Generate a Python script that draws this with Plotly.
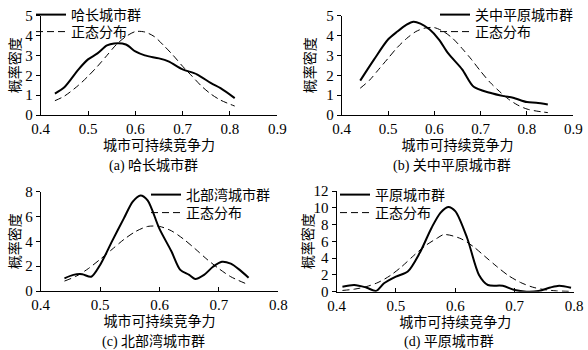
import plotly.graph_objects as go

# ---------------- data ----------------
# (a) 哈长城市群
a_x = [0.43, 0.45, 0.48, 0.50, 0.52, 0.54, 0.555, 0.58, 0.60, 0.62, 0.65, 0.67, 0.70, 0.73, 0.76, 0.78, 0.81]
a_y = [1.08, 1.4, 2.3, 2.8, 3.1, 3.5, 3.6, 3.55, 3.2, 3.0, 2.85, 2.7, 2.3, 2.05, 1.6, 1.35, 0.85]
a_nx = [0.43, 0.45, 0.48, 0.50, 0.52, 0.54, 0.56, 0.58, 0.60, 0.62, 0.64, 0.66, 0.68, 0.70, 0.72, 0.74, 0.76, 0.78, 0.81]
a_ny = [0.72, 0.95, 1.5, 1.95, 2.45, 3.0, 3.55, 3.95, 4.2, 4.18, 3.95, 3.5, 3.0, 2.45, 1.95, 1.45, 1.05, 0.75, 0.45]

# (b) 关中平原城市群
b_x = [0.44, 0.47, 0.50, 0.52, 0.54, 0.555, 0.57, 0.59, 0.61, 0.63, 0.66, 0.685, 0.72, 0.75, 0.77, 0.80, 0.82, 0.845]
b_y = [1.73, 2.8, 3.8, 4.2, 4.55, 4.7, 4.6, 4.3, 3.8, 3.1, 2.3, 1.42, 1.12, 0.95, 0.87, 0.65, 0.62, 0.53]
b_nx = [0.44, 0.46, 0.48, 0.50, 0.52, 0.54, 0.56, 0.58, 0.60, 0.62, 0.64, 0.66, 0.68, 0.70, 0.72, 0.74, 0.76, 0.78, 0.80, 0.82, 0.845]
b_ny = [1.35, 1.75, 2.3, 2.85, 3.4, 3.85, 4.2, 4.38, 4.4, 4.2, 3.85, 3.35, 2.8, 2.2, 1.65, 1.2, 0.8, 0.5, 0.3, 0.2, 0.12]

# (c) 北部湾城市群
c_x = [0.44, 0.455, 0.47, 0.485, 0.50, 0.52, 0.54, 0.555, 0.568, 0.58, 0.60, 0.62, 0.635, 0.65, 0.66, 0.675, 0.69, 0.705, 0.72, 0.735, 0.75]
c_y = [1.02, 1.3, 1.35, 1.15, 2.1, 4.0, 5.85, 7.2, 7.7, 7.3, 5.0, 3.2, 1.7, 1.3, 0.97, 1.3, 1.95, 2.36, 2.2, 1.7, 1.07]
c_nx = [0.44, 0.46, 0.48, 0.50, 0.52, 0.54, 0.56, 0.58, 0.60, 0.62, 0.64, 0.66, 0.68, 0.70, 0.72, 0.75]
c_ny = [0.8, 1.2, 1.8, 2.55, 3.35, 4.15, 4.8, 5.2, 5.2, 4.85, 4.2, 3.4, 2.55, 1.8, 1.15, 0.5]

# (d) 平原城市群
d_x = [0.41, 0.43, 0.45, 0.467, 0.48, 0.50, 0.52, 0.54, 0.56, 0.575, 0.588, 0.60, 0.62, 0.64, 0.655, 0.68, 0.70, 0.72, 0.74, 0.76, 0.775, 0.795]
d_y = [0.6, 0.8, 0.5, 0.1, 1.0, 1.8, 2.4, 4.6, 7.6, 9.4, 10.1, 9.6, 6.4, 2.0, 0.8, 0.7, 0.2, 0.0, 0.08, 0.5, 0.72, 0.48]
d_nx = [0.41, 0.43, 0.45, 0.47, 0.49, 0.51, 0.53, 0.55, 0.57, 0.58, 0.59, 0.61, 0.63, 0.65, 0.67, 0.69, 0.71, 0.73, 0.75, 0.77, 0.795]
d_ny = [0.15, 0.3, 0.6, 1.1, 1.9, 3.0, 4.3, 5.5, 6.4, 6.8, 6.75, 6.3, 5.4, 4.2, 3.0, 1.9, 1.1, 0.55, 0.25, 0.1, 0.04]

names = ["哈长城市群", "关中平原城市群", "北部湾城市群", "平原城市群"]
captions = ["(a) 哈长城市群", "(b) 关中平原城市群", "(c) 北部湾城市群", "(d) 平原城市群"]
norm_name = "正态分布"
x_title = "城市可持续竞争力"
y_title = "概率密度"
x_ranges = [[0.4, 0.9], [0.4, 0.9], [0.4, 0.8], [0.4, 0.8]]
y_ranges = [[0, 5], [0, 5], [0, 8], [0, 12]]
y_dticks = [1, 1, 2, 2]

# ---------------- layout ----------------
W, H = 588, 350
FONT = '"Liberation Serif", "Times New Roman", "Noto Sans CJK SC", serif'
# plot areas in pixels: (left, right, top, bottom)
boxes = [(40.7, 277.3, 15.7, 115.0), (341.7, 573.3, 15.7, 115.0),
         (40.7, 278.3, 191.7, 291.0), (336.5, 574.0, 191.0, 291.7)]
# legend text start x, row centres y (pixels)
legend_x = [72, 476, 187, 376]
legend_rows = [(15, 32), (15, 32), (195, 213), (195, 213)]
ytitle_x = [15, 310, 15, 308]

series = [(a_x, a_y, a_nx, a_ny), (b_x, b_y, b_nx, b_ny),
          (c_x, c_y, c_nx, c_ny), (d_x, d_y, d_nx, d_ny)]

fig = go.Figure()
layout = dict(width=W, height=H, margin=dict(l=0, r=0, t=0, b=0, autoexpand=False),
              paper_bgcolor="white", plot_bgcolor="white", showlegend=True,
              font=dict(family=FONT, size=14, color="black"))
annotations = []

for i, (sx, sy, nx, ny) in enumerate(series):
    k = "" if i == 0 else str(i + 1)
    lg1 = "legend" + ("" if i == 0 else str(2 * i + 1))
    lg2 = "legend" + str(2 * i + 2)
    fig.add_trace(go.Scatter(x=sx, y=sy, mode="lines", name=names[i], showlegend=True,
                             line=dict(color="black", width=2, shape="spline", smoothing=0.8),
                             xaxis="x" + k, yaxis="y" + k, legend=lg1))
    fig.add_trace(go.Scatter(x=nx, y=ny, mode="lines", name=norm_name, showlegend=True,
                             line=dict(color="black", width=1, dash="7px,4px", shape="spline", smoothing=0.8),
                             xaxis="x" + k, yaxis="y" + k, legend=lg2))
    l, r, t, b = boxes[i]
    layout["xaxis" + k] = dict(domain=[l / W, r / W], range=x_ranges[i], anchor="y" + k,
                               dtick=0.1, tickformat=".1f", showgrid=False, zeroline=False,
                               showline=True, linecolor="black", linewidth=1,
                               ticks="inside", ticklen=4, tickcolor="black",
                               tickfont=dict(family=FONT, size=15),
                               title=dict(text=x_title, font=dict(family=FONT, size=14), standoff=0))
    layout["yaxis" + k] = dict(domain=[1 - b / H, 1 - t / H], range=y_ranges[i], anchor="x" + k,
                               dtick=y_dticks[i], showgrid=False, zeroline=False,
                               showline=True, linecolor="black", linewidth=1,
                               ticks="outside", ticklen=4, tickcolor="black",
                               tickfont=dict(family=FONT, size=15))
    for lg, yrow in ((lg1, legend_rows[i][0]), (lg2, legend_rows[i][1])):
        layout[lg] = dict(x=(legend_x[i] - 41) / W, y=1 - yrow / H, xanchor="left", yanchor="middle",
                          visible=True, bgcolor="rgba(0,0,0,0)", font=dict(family=FONT, size=14),
                          itemwidth=30, borderwidth=0)
    annotations.append(dict(text=captions[i], x=((l + r) / 2 - 6) / W, y=1 - (b + 50) / H,
                            xref="paper", yref="paper", showarrow=False,
                            xanchor="center", yanchor="middle", font=dict(family=FONT, size=14)))
    annotations.append(dict(text=y_title, x=ytitle_x[i] / W, y=1 - ((t + b) / 2) / H,
                            xref="paper", yref="paper", showarrow=False, textangle=-90,
                            xanchor="center", yanchor="middle", font=dict(family=FONT, size=14)))

layout["annotations"] = annotations
fig.update_layout(**layout)
fig.write_html("out.html")
